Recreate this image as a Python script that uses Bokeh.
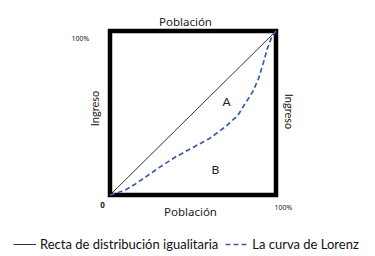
import math
from bokeh.plotting import figure
from bokeh.models import Range1d, Label, Legend, LegendItem
from bokeh.embed import file_html
from bokeh.resources import INLINE

# Data
equality_x = [0.0, 1.0]
equality_y = [0.0, 1.0]
lorenz_x = [0.0, 0.05, 0.10, 0.15, 0.20, 0.30, 0.40, 0.50, 0.60, 0.70, 0.77, 0.80,
            0.86, 0.895, 0.925, 0.947, 0.977, 1.0]
lorenz_y = [0.0, 0.015, 0.035, 0.065, 0.10, 0.17, 0.235, 0.29, 0.345, 0.42, 0.485, 0.535,
            0.63, 0.71, 0.81, 0.89, 0.97, 1.0]

box_left, box_right, box_bottom, box_top = [0.0], [1.0], [0.0], [1.0]

axis_title = "Población"
income_title = "Ingreso"
tick_zero = "0"
tick_full = "100%"
area_labels = ["A", "B"]
legend_labels = ["Recta de distribución igualitaria", "La curva de Lorenz"]

W, H = 375, 256
FL, FW, FT, FH = 109.5, 166.0, 30.5, 164.0   # box position in pixels

p = figure(width=W, height=H, output_backend="svg", toolbar_location=None,
           x_range=Range1d(-FL / FW, (W - FL) / FW),
           y_range=Range1d(-(H - FT - FH) / FH, (FT + FH) / FH),
           min_border=0, min_border_left=0, min_border_right=0,
           min_border_top=0, min_border_bottom=0)
p.xaxis.visible = False
p.yaxis.visible = False
p.grid.visible = False
p.outline_line_alpha = 0
p.background_fill_color = "white"
p.border_fill_color = "white"

p.quad(left=box_left, right=box_right, bottom=box_bottom, top=box_top,
       fill_alpha=0, line_color="black", line_width=4.5, line_join="miter")
r_eq = p.line(equality_x, equality_y, line_color="black", line_width=0.8)
r_lz = p.line(lorenz_x, lorenz_y, line_color="#3a5ca6", line_width=1.7, line_dash="5 3")

ubuntu = "Noto Sans"
calibri = "Lato"

def px(x):
    return (x - FL) / FW

def py(y):
    return (FT + FH - y) / FH

def lab(x, y, text, size, font, angle=0, color="#222222", style="normal"):
    p.add_layout(Label(x=px(x), y=py(y), text=text, text_font_size=size, text_font=font,
                       text_align="center", text_baseline="middle", angle=angle,
                       text_color=color, text_font_style=style))

lab(185, 21, axis_title, "11.5px", ubuntu)
lab(190, 211, axis_title, "11.5px", ubuntu)
lab(80, 38, tick_full, "7px", ubuntu)
lab(283, 207, tick_full, "7px", ubuntu)
lab(102, 204, tick_zero, "8px", ubuntu, style="bold")
lab(94, 108, income_title, "11px", calibri, angle=math.pi / 2)
lab(289, 111, income_title, "11px", calibri, angle=-math.pi / 2)
lab(226, 101, area_labels[0], "12px", calibri)
lab(215, 169, area_labels[1], "12px", calibri)

legend = Legend(items=[LegendItem(label=legend_labels[0], renderers=[r_eq]),
                       LegendItem(label=legend_labels[1], renderers=[r_lz])],
                location=(13, 256 - 252), orientation="horizontal",
                label_text_font=calibri, label_text_font_size="13px",
                label_text_color="#111111",
                glyph_width=23, glyph_height=14, label_standoff=4, spacing=7,
                padding=0, margin=0, border_line_alpha=0, background_fill_alpha=0)
p.add_layout(legend, "center")

open("out.html", "w").write(file_html(p, INLINE))
